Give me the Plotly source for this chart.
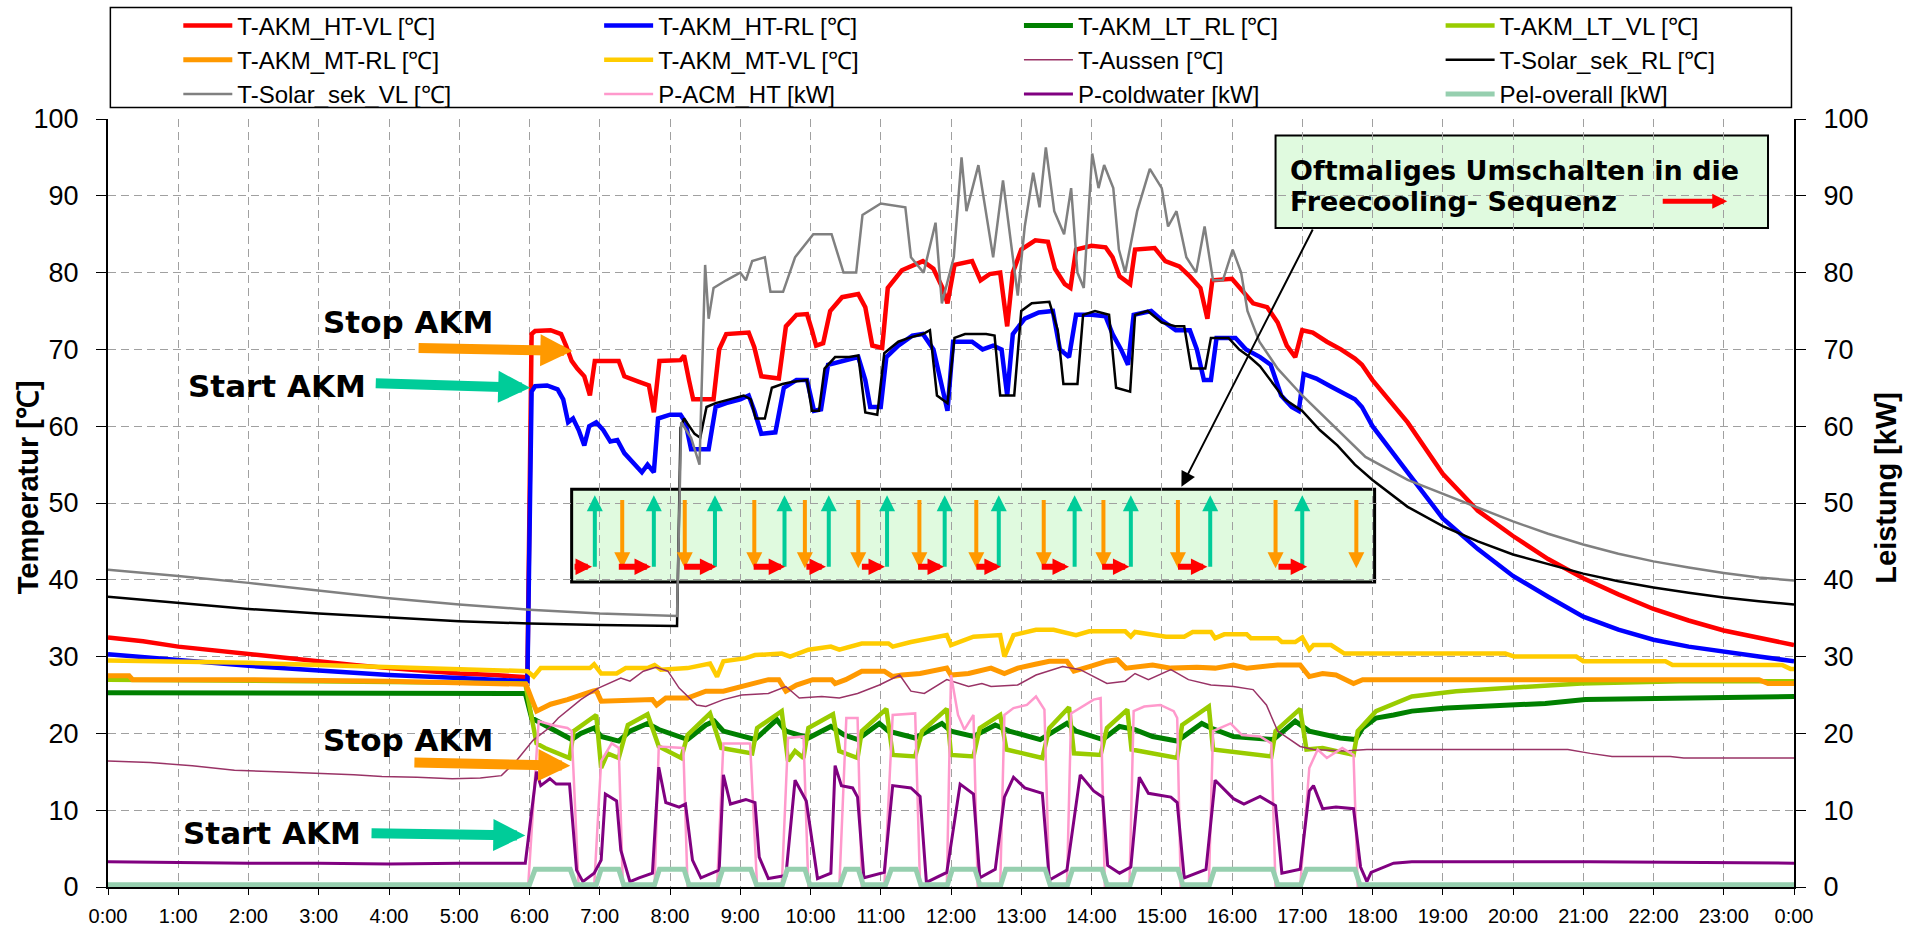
import plotly.graph_objects as go

# ---------------- axis labels ----------------
hour_ticks = [0, 1, 2, 3, 4, 5, 6, 7, 8, 9, 10, 11, 12, 13, 14, 15, 16, 17, 18, 19, 20, 21, 22, 23, 24]
hour_labels = ["0:00", "1:00", "2:00", "3:00", "4:00", "5:00", "6:00", "7:00", "8:00", "9:00",
               "10:00", "11:00", "12:00", "13:00", "14:00", "15:00", "16:00", "17:00", "18:00",
               "19:00", "20:00", "21:00", "22:00", "23:00", "0:00"]
value_ticks = [0, 10, 20, 30, 40, 50, 60, 70, 80, 90, 100]

# ---------------- series (time in hours, values) ----------------
t_ht_vl = [0, 0.5, 1, 1.5, 2, 2.5, 3, 3.5, 4, 4.5, 5, 5.5, 5.97, 6.03, 6.08, 6.3, 6.45, 6.52, 6.6, 6.68, 6.78,
           6.86, 6.93, 7.27, 7.35, 7.55, 7.7, 7.77, 7.85, 8.15, 8.2, 8.27, 8.33, 8.62, 8.7, 8.8, 9.12, 9.2, 9.3,
           9.55, 9.65, 9.8, 9.95, 10.02, 10.08, 10.18, 10.28, 10.45, 10.68, 10.78, 10.88, 11.02, 11.1, 11.3,
           11.5, 11.6, 11.75, 11.88, 11.95, 12.05, 12.3, 12.42, 12.55, 12.7, 12.8, 12.88, 13.0, 13.2, 13.38,
           13.48, 13.62, 13.7, 13.78, 14.0, 14.2, 14.3, 14.4, 14.55, 14.62, 14.9, 15.05, 15.25, 15.4, 15.55,
           15.65, 15.72, 16.0, 16.15, 16.3, 16.5, 16.65, 16.78, 16.9, 17.0, 17.15, 17.35, 17.55, 17.75, 17.85,
           18.0, 18.5, 19.0, 19.5, 20.0, 20.5, 21.0, 21.5, 22.0, 22.5, 23.0, 23.5, 24]
v_ht_vl = [32.5, 32.0, 31.3, 30.8, 30.3, 29.8, 29.3, 28.9, 28.5, 28.1, 27.8, 27.6, 27.3, 72.0, 72.4, 72.5, 72.0,
           70.5, 68.5, 67.5, 66.5, 64.0, 68.5, 68.5, 66.5, 65.8, 65.3, 61.8, 68.5, 68.6, 69.2, 66.0, 63.5, 63.5,
           70.0, 72.0, 72.2, 70.3, 66.5, 66.2, 73.0, 74.5, 74.6, 72.5, 70.5, 70.8, 75.0, 76.8, 77.2, 75.5, 70.5,
           70.2, 78.0, 80.3, 81.0, 81.5, 80.5, 78.0, 76.0, 81.0, 81.5, 79.0, 79.8, 80.0, 73.0, 80.0, 83.0, 84.2,
           84.0, 80.5, 78.5, 78.0, 83.0, 83.5, 83.3, 82.0, 79.5, 78.5, 83.0, 83.2, 81.5, 80.8, 79.5, 78.0, 74.0,
           79.0, 79.2, 77.5, 76.0, 75.5, 73.5, 70.5, 69.0, 72.5, 72.2, 71.0, 70.0, 68.8, 68.0, 66.0, 60.5, 53.8,
           49.0, 45.7, 42.7, 40.2, 38.1, 36.2, 34.7, 33.4, 32.4, 31.5]

t_ht_rl = [0, 1, 2, 3, 4, 5, 5.97, 6.03, 6.08, 6.25, 6.4, 6.48, 6.55, 6.62, 6.7, 6.78, 6.85, 6.95, 7.05, 7.15,
           7.25, 7.35, 7.45, 7.6, 7.68, 7.77, 7.83, 8.0, 8.15, 8.22, 8.3, 8.55, 8.65, 8.8, 9.0, 9.12, 9.2, 9.3,
           9.5, 9.62, 9.8, 9.95, 10.05, 10.15, 10.25, 10.45, 10.68, 10.78, 10.85, 11.0, 11.08, 11.25, 11.45, 11.6,
           11.75, 11.85, 11.95, 12.03, 12.3, 12.45, 12.6, 12.72, 12.8, 12.88, 13.05, 13.25, 13.45, 13.55, 13.68,
           13.78, 14.0, 14.2, 14.3, 14.42, 14.52, 14.6, 14.85, 15.0, 15.2, 15.4, 15.5, 15.6, 15.7, 15.78, 16.05,
           16.2, 16.4, 16.55, 16.7, 16.85, 16.95, 17.02, 17.2, 17.4, 17.6, 17.75, 17.85, 18.0, 18.5, 19.0, 19.5,
           20.0, 20.5, 21.0, 21.5, 22.0, 22.5, 23.0, 23.5, 24]
v_ht_rl = [30.3, 29.5, 28.8, 28.2, 27.6, 27.2, 26.8, 64.5, 65.2, 65.3, 64.8, 63.5, 60.5, 61.0, 59.5, 57.5, 60.0,
           60.5, 59.5, 58.0, 58.2, 56.5, 55.5, 54.0, 55.0, 54.0, 61.0, 61.5, 61.5, 60.5, 57.0, 57.0, 62.5, 63.0,
           63.5, 64.0, 62.0, 59.0, 59.2, 65.0, 66.0, 66.0, 62.0, 62.2, 68.0, 68.5, 69.0, 66.0, 62.5, 62.5, 69.0,
           70.5, 71.8, 72.0, 70.0, 66.0, 62.0, 71.0, 71.0, 70.0, 70.5, 70.0, 64.0, 72.0, 74.0, 74.8, 75.0, 70.0,
           69.0, 74.5, 74.5, 74.3, 72.0, 70.0, 68.0, 74.5, 75.0, 73.8, 72.5, 72.5, 70.0, 66.0, 66.0, 71.5, 71.5,
           70.0, 69.0, 68.0, 64.0, 62.5, 62.0, 66.8, 66.2, 65.2, 64.3, 63.5, 62.5, 60.0, 54.0, 48.0, 44.0, 40.5,
           37.8, 35.2, 33.5, 32.2, 31.3, 30.6, 30.0, 29.4]

t_lt_rl = [0, 3, 5.94, 6.03, 6.22, 6.6, 6.73, 6.92, 7.02, 7.27, 7.43, 7.68, 7.84, 8.25, 8.51, 8.63, 8.76, 9.21,
           9.52, 9.65, 9.97, 10.29, 10.48, 10.67, 10.98, 11.11, 11.49, 11.87, 12.0, 12.32, 12.63, 12.83, 13.27,
           13.65, 13.78, 14.16, 14.4, 14.62, 14.87, 15.22, 15.57, 15.7, 16.02, 16.59, 16.9, 17.1, 17.54, 17.76,
           17.86, 18.05, 18.3, 18.56, 19.06, 19.57, 19.95, 20.46, 21.03, 21.73, 22.37, 23.32, 24]
v_lt_rl = [25.3, 25.3, 25.2, 22.0, 21.1, 19.2, 20.0, 20.7, 19.6, 19.0, 20.3, 21.3, 20.5, 19.2, 21.1, 21.6, 20.3,
           19.2, 21.8, 20.3, 19.4, 20.9, 19.8, 19.2, 21.3, 20.3, 19.4, 21.3, 20.3, 19.6, 21.1, 20.3, 19.2, 21.3,
           20.3, 19.2, 20.9, 20.5, 19.6, 19.0, 21.3, 20.7, 19.6, 19.2, 21.6, 20.3, 19.4, 19.2, 20.7, 22.0, 22.4,
           22.9, 23.3, 23.5, 23.7, 23.9, 24.4, 24.5, 24.7, 24.8, 24.8]

t_lt_vl = [0, 2, 4, 5.94, 6.03, 6.1, 6.22, 6.57, 6.63, 6.92, 6.95, 7.02, 7.11, 7.27, 7.4, 7.68, 7.84, 8.16, 8.25,
           8.57, 8.73, 9.17, 9.24, 9.59, 9.68, 9.78, 9.9, 9.97, 10.32, 10.41, 10.67, 10.73, 11.08, 11.17, 11.49,
           11.59, 11.94, 12.0, 12.32, 12.41, 12.7, 12.79, 13.3, 13.4, 13.68, 13.75, 14.13, 14.22, 14.51, 14.57,
           15.22, 15.29, 15.67, 15.73, 16.56, 16.62, 16.97, 17.06, 17.29, 17.73, 17.79, 18.05, 18.56, 19.19,
           19.83, 20.46, 20.97, 22.37, 24]
v_lt_vl = [27.0, 26.9, 26.7, 26.5, 22.4, 18.7, 18.1, 16.8, 20.3, 22.2, 22.4, 15.5, 17.4, 16.8, 21.1, 22.5, 18.3,
           16.8, 19.8, 22.6, 18.1, 17.4, 20.7, 22.9, 16.4, 17.7, 16.8, 20.7, 22.5, 17.7, 16.8, 20.3, 23.2, 17.2,
           17.0, 20.3, 23.2, 17.2, 17.0, 20.7, 22.4, 17.9, 16.8, 20.7, 23.4, 17.4, 17.2, 20.7, 23.1, 17.9, 16.8,
           21.1, 23.5, 17.9, 17.0, 20.3, 23.2, 17.9, 18.1, 17.2, 20.3, 22.9, 24.8, 25.5, 25.9, 26.3, 26.5, 26.8,
           26.8]

t_mt_rl = [0, 0.3, 0.35, 2, 4, 5.95, 6.03, 6.1, 6.3, 6.54, 6.9, 6.95, 7.02, 7.25, 7.5, 7.75, 7.81, 7.94, 8.25, 8.4,
           8.51, 8.76, 9.02, 9.4, 9.55, 9.65, 9.8, 10.03, 10.3, 10.35, 10.5, 10.73, 11.05, 11.17, 11.3, 11.56,
           11.94, 12.0, 12.25, 12.57, 12.76, 12.95, 13.2, 13.4, 13.65, 13.75, 13.97, 14.22, 14.37, 14.49, 14.87,
           15.13, 15.5, 15.76, 16.02, 16.21, 16.65, 16.97, 17.1, 17.29, 17.48, 17.73, 17.86, 20, 23.5, 23.63, 24]
v_mt_rl = [27.5, 27.5, 27.0, 27.0, 26.8, 26.4, 24.5, 22.9, 23.8, 24.4, 25.5, 25.6, 24.2, 24.3, 24.4, 24.4, 23.7,
           24.6, 24.6, 25.2, 25.5, 25.5, 26.1, 27.0, 27.0, 25.5, 26.3, 27.0, 27.0, 26.5, 27.0, 28.1, 28.1, 27.4,
           27.6, 27.8, 28.5, 27.6, 27.8, 28.5, 27.8, 28.5, 29.0, 29.4, 29.4, 28.1, 28.7, 29.4, 29.6, 28.5, 28.9,
           28.5, 28.6, 28.5, 28.9, 28.5, 28.9, 28.9, 27.4, 27.8, 27.6, 26.5, 27.0, 27.0, 27.0, 26.5, 26.5]

t_mt_vl = [0, 1, 2, 3, 4, 5, 5.97, 6.06, 6.16, 6.86, 6.92, 7.02, 7.24, 7.37, 7.68, 7.78, 7.87, 8.25, 8.57, 8.67,
           8.76, 9.08, 9.21, 9.59, 9.71, 9.97, 10.29, 10.41, 10.73, 11.11, 11.17, 11.43, 11.94, 12.0, 12.32, 12.7,
           12.76, 12.89, 13.21, 13.46, 13.78, 13.97, 14.48, 14.56, 14.62, 15.06, 15.32, 15.44, 15.7, 15.76, 15.89,
           16.21, 16.27, 16.65, 16.71, 16.9, 17.0, 17.1, 17.16, 17.41, 17.6, 19.89, 20.02, 20.9, 21.0, 22.17,
           22.27, 23.83, 23.95, 24]
v_mt_vl = [29.5, 29.4, 29.2, 28.9, 28.6, 28.3, 28.1, 27.4, 28.5, 28.5, 29.0, 27.8, 27.8, 28.5, 28.5, 28.9, 28.3,
           28.5, 29.1, 27.4, 29.4, 29.8, 30.2, 30.4, 30.0, 30.9, 31.3, 30.9, 31.7, 31.7, 31.3, 31.9, 32.8, 31.5,
           32.6, 32.8, 30.0, 32.8, 33.5, 33.5, 32.8, 33.3, 33.3, 32.6, 33.2, 32.6, 32.6, 33.2, 33.2, 32.4, 32.9,
           32.9, 32.4, 32.4, 31.9, 31.9, 32.5, 30.9, 31.5, 31.5, 30.4, 30.4, 30.0, 30.0, 29.4, 29.4, 28.9, 28.9,
           28.4, 28.4]

t_aussen = [0, 0.6, 1.2, 1.8, 2.4, 3.0, 3.5, 3.9, 4.4, 4.9, 5.3, 5.6, 5.82, 6.05, 6.29, 6.41, 6.73, 6.98, 7.3,
            7.43, 7.62, 7.8, 7.97, 8.13, 8.38, 8.51, 8.76, 9.02, 9.4, 9.65, 9.84, 10.16, 10.41, 10.67, 10.98,
            11.27, 11.43, 11.62, 11.94, 12.25, 12.44, 12.57, 12.95, 13.21, 13.59, 13.84, 14.22, 14.48, 14.62,
            14.81, 15.13, 15.38, 15.7, 16.02, 16.3, 16.49, 16.65, 16.97, 17.16, 17.6, 17.92, 18.56, 19.83, 20.78,
            21.1, 21.41, 22.24, 22.43, 24]
v_aussen = [16.4, 16.2, 15.8, 15.2, 15.0, 14.8, 14.6, 14.4, 14.3, 14.1, 14.2, 14.5, 16.5, 19.1, 20.8, 22.0, 24.4,
            25.9, 27.2, 26.8, 28.1, 28.6, 28.1, 25.9, 23.7, 23.5, 24.4, 25.0, 25.2, 26.1, 24.6, 24.8, 24.6, 25.2,
            26.3, 27.6, 25.5, 25.2, 27.0, 26.1, 26.5, 26.1, 26.3, 27.6, 28.7, 28.3, 26.5, 26.8, 27.8, 27.0, 28.3,
            27.0, 26.3, 26.1, 25.7, 23.7, 20.3, 18.3, 17.9, 17.7, 17.9, 17.9, 17.9, 17.9, 17.4, 17.0, 17.0, 16.8,
            16.8]

t_solar_rl = [0, 1, 2, 3, 4, 5, 6, 7, 8.1, 8.15, 8.2, 8.27, 8.35, 8.43, 8.52, 8.65, 8.85, 9.05, 9.15, 9.22, 9.35,
              9.45, 9.6, 9.75, 9.95, 10.02, 10.12, 10.2, 10.35, 10.55, 10.68, 10.78, 10.95, 11.05, 11.25, 11.4,
              11.6, 11.7, 11.8, 11.95, 12.05, 12.2, 12.5, 12.62, 12.7, 12.9, 13.0, 13.15, 13.4, 13.52, 13.6, 13.8,
              13.88, 14.05, 14.25, 14.35, 14.55, 14.62, 14.8, 15.0, 15.2, 15.32, 15.42, 15.62, 15.7, 15.95, 16.1,
              16.25, 16.4, 16.55, 16.75, 17.0, 17.25, 17.5, 17.75, 18.0, 18.5, 19.0, 19.5, 20.0, 20.5, 21.0,
              21.5, 22.0, 22.5, 23.0, 23.5, 24]
v_solar_rl = [37.8, 37.0, 36.2, 35.6, 35.1, 34.6, 34.3, 34.1, 34.0, 59.8, 61.0, 60.0, 59.0, 58.5, 62.5, 63.0, 63.5,
              64.0, 63.5, 61.0, 61.0, 65.0, 65.5, 65.8, 66.0, 62.0, 62.0, 67.5, 69.0, 69.0, 69.2, 61.8, 61.5, 69.5,
              71.0, 71.5, 72.0, 72.5, 64.0, 63.0, 71.5, 72.0, 72.0, 71.8, 64.0, 64.0, 75.0, 76.0, 76.2, 72.5, 65.5,
              65.5, 74.5, 75.0, 74.5, 65.0, 64.5, 74.5, 75.0, 73.5, 73.0, 73.0, 67.5, 67.5, 71.5, 71.5, 70.0, 69.0,
              67.8, 66.0, 63.5, 62.0, 59.5, 57.5, 55.0, 53.0, 49.5, 47.0, 45.0, 43.3, 42.0, 40.8, 39.8, 39.0,
              38.3, 37.7, 37.2, 36.8]

t_solar_vl = [0, 1, 2, 3, 4, 5, 6, 7, 8.1, 8.16, 8.3, 8.42, 8.5, 8.55, 8.62, 8.8, 9.0, 9.08, 9.17, 9.35, 9.43,
              9.61, 9.78, 10.04, 10.3, 10.47, 10.65, 10.74, 11.0, 11.35, 11.43, 11.61, 11.78, 11.87, 12.04, 12.15,
              12.22, 12.39, 12.48, 12.6, 12.74, 12.88, 12.95, 13.05, 13.17, 13.26, 13.35, 13.47, 13.61, 13.71, 13.8,
              13.89, 14.01, 14.1, 14.18, 14.31, 14.39, 14.48, 14.65, 14.83, 15.0, 15.09, 15.21, 15.35, 15.49,
              15.61, 15.73, 15.87, 16.01, 16.13, 16.22, 16.39, 16.65, 17.0, 17.5, 17.9, 18.5, 19.0, 19.5, 20.0,
              20.5, 21.0, 21.5, 22.0, 22.5, 23.0, 23.5, 24]
v_solar_vl = [41.3, 40.5, 39.6, 38.6, 37.6, 36.8, 36.1, 35.6, 35.3, 60.5, 58.5, 55.0, 81.0, 74.0, 78.0, 79.0,
              80.0, 79.0, 81.5, 82.0, 77.5, 77.5, 82.0, 85.0, 85.0, 80.0, 80.0, 87.5, 89.0, 88.5, 82.0, 80.0, 86.5,
              76.0, 82.0, 95.0, 88.0, 94.0, 89.0, 82.0, 92.0, 82.0, 77.0, 86.0, 93.0, 88.5, 96.3, 88.0, 85.0, 91.0,
              80.0, 78.0, 95.5, 91.0, 94.0, 91.0, 83.0, 80.0, 88.0, 93.5, 91.0, 86.0, 88.0, 82.0, 80.0, 86.0, 79.0,
              79.0, 83.0, 80.0, 75.0, 71.0, 67.5, 64.0, 59.5, 56.0, 53.0, 51.2, 49.3, 47.6, 46.0, 44.6, 43.4, 42.4,
              41.6, 40.9, 40.3, 39.9]

t_acm_ht = [0, 5.98, 6.13, 6.32, 6.54, 6.6, 6.7, 6.92, 7.02, 7.17, 7.27, 7.33, 7.78, 7.84, 8.19, 8.25, 8.67, 8.76,
            9.14, 9.24, 9.59, 9.68, 9.9, 9.97, 10.41, 10.51, 10.67, 10.73, 11.05, 11.17, 11.49, 11.56, 11.94, 12.0,
            12.1, 12.19, 12.32, 12.38, 12.7, 12.76, 12.89, 13.08, 13.21, 13.33, 13.4, 13.65, 13.71, 13.84, 14.03,
            14.13, 14.19, 14.54, 14.6, 14.75, 14.98, 15.17, 15.22, 15.27, 15.67, 15.73, 15.98, 16.14, 16.4, 16.56,
            16.62, 16.97, 17.1, 17.22, 17.35, 17.57, 17.73, 17.79, 24]
v_acm_ht = [0, 0, 21.6, 21.1, 20.7, 20.3, 0, 0, 16.4, 18.7, 18.1, 0, 0, 18.3, 18.1, 0, 0, 18.7, 18.7, 0, 0, 19.4,
            19.6, 0, 0, 22.0, 22.0, 0, 0, 22.4, 22.6, 0, 0, 27.6, 22.4, 20.5, 22.4, 0, 0, 22.4, 23.3, 23.7, 24.8,
            23.1, 0, 0, 22.6, 23.3, 24.4, 24.6, 0, 0, 22.9, 23.5, 23.7, 22.9, 22.0, 0, 0, 20.3, 21.3, 19.8, 19.6,
            18.7, 0, 0, 15.5, 17.9, 16.8, 18.1, 17.2, 0, 0]

t_coldwater = [0, 1, 2, 3, 4, 5, 5.94, 6.1, 6.16, 6.29, 6.38, 6.57, 6.67, 6.76, 6.92, 7.02, 7.08, 7.24, 7.3, 7.43,
               7.56, 7.75, 7.84, 7.94, 8.13, 8.22, 8.32, 8.44, 8.7, 8.76, 8.86, 9.08, 9.21, 9.27, 9.4, 9.65, 9.78,
               9.94, 10.1, 10.29, 10.35, 10.44, 10.6, 10.67, 10.76, 11.05, 11.17, 11.43, 11.56, 11.65, 11.94, 12.13,
               12.32, 12.41, 12.63, 12.76, 12.89, 13.05, 13.3, 13.4, 13.65, 13.84, 14.03, 14.16, 14.23, 14.4, 14.56,
               14.68, 14.81, 15.13, 15.22, 15.32, 15.63, 15.76, 16.02, 16.17, 16.4, 16.62, 16.71, 16.97, 17.1,
               17.16, 17.29, 17.48, 17.73, 17.83, 17.92, 17.98, 18.3, 18.56, 21.1, 24]
v_coldwater = [3.3, 3.2, 3.1, 3.1, 3.0, 3.1, 3.1, 15.0, 13.2, 14.1, 13.4, 13.4, 2.2, 0.7, 1.8, 3.5, 12.1, 11.2,
               4.8, 0.7, 1.2, 1.8, 15.6, 11.0, 10.4, 10.8, 3.5, 1.2, 2.2, 14.6, 10.8, 11.4, 11.0, 3.9, 1.1, 1.5,
               13.9, 11.2, 1.1, 1.8, 15.8, 13.2, 12.9, 11.7, 1.2, 1.9, 13.2, 12.9, 11.8, 0.6, 1.9, 13.4, 12.1, 1.2,
               2.3, 11.7, 14.3, 12.9, 12.2, 0.9, 2.2, 14.6, 12.5, 11.7, 2.8, 1.8, 2.6, 14.3, 12.2, 11.7, 11.0, 1.2,
               2.3, 13.9, 11.5, 10.8, 11.8, 10.6, 1.8, 2.3, 12.5, 13.2, 10.2, 10.4, 10.2, 2.6, 0.7, 1.9, 3.1, 3.3,
               3.3, 3.1]

t_pel = [0, 6.0, 6.08, 6.58, 6.66, 6.95, 7.02, 7.27, 7.34, 7.78, 7.85, 8.2, 8.27, 8.68, 8.75, 9.15, 9.23, 9.6,
         9.67, 9.92, 9.99, 10.42, 10.5, 10.68, 10.75, 11.07, 11.15, 11.5, 11.57, 11.95, 12.02, 12.34, 12.41, 12.71,
         12.78, 13.34, 13.41, 13.66, 13.73, 14.15, 14.22, 14.55, 14.62, 15.23, 15.3, 15.68, 15.75, 16.58, 16.65,
         16.98, 17.06, 17.75, 17.82, 24]
v_pel = [0.3, 0.3, 2.3, 2.3, 0.3, 0.3, 2.3, 2.3, 0.3, 0.3, 2.3, 2.3, 0.3, 0.3, 2.3, 2.3, 0.3, 0.3, 2.3, 2.3, 0.3,
         0.3, 2.3, 2.3, 0.3, 0.3, 2.3, 2.3, 0.3, 0.3, 2.3, 2.3, 0.3, 0.3, 2.3, 2.3, 0.3, 0.3, 2.3, 2.3, 0.3, 0.3,
         2.3, 2.3, 0.3, 0.3, 2.3, 2.3, 0.3, 0.3, 2.3, 2.3, 0.3, 0.3]

# ---------------- annotation positions (hours / values) ----------------
fc_up_h = [6.93, 7.77, 8.64, 9.63, 10.26, 11.09, 11.91, 12.68, 13.76, 14.56, 15.69, 17.0]
fc_down_h = [7.32, 8.21, 9.20, 9.92, 10.68, 11.55, 12.36, 13.32, 14.17, 15.23, 16.62, 17.77]
fc_right_start = [6.62, 7.25, 8.18, 9.17, 9.92, 10.71, 11.51, 12.34, 13.27, 14.13, 15.21, 16.64]
fc_right_end = [6.89, 7.73, 8.66, 9.64, 10.22, 11.06, 11.90, 12.71, 13.68, 14.54, 15.65, 17.07]

DEG = "\u2103"
FONT = "Liberation Sans, Arial, sans-serif"
BOLD_V = "DejaVu Sans, Verdana, sans-serif"

series = [
    ("T-AKM_HT-VL [" + DEG + "]", t_ht_vl, v_ht_vl, "#FF0000", 4.5, "legend", "y"),
    ("T-AKM_HT-RL [" + DEG + "]", t_ht_rl, v_ht_rl, "#0000FF", 4.5, "legend2", "y"),
    ("T-AKM_LT_RL [" + DEG + "]", t_lt_rl, v_lt_rl, "#008000", 5, "legend3", "y"),
    ("T-AKM_LT_VL [" + DEG + "]", t_lt_vl, v_lt_vl, "#99CC00", 4.5, "legend4", "y"),
    ("T-AKM_MT-RL [" + DEG + "]", t_mt_rl, v_mt_rl, "#FF9900", 5, "legend", "y"),
    ("T-AKM_MT-VL [" + DEG + "]", t_mt_vl, v_mt_vl, "#FFCC00", 4.5, "legend2", "y"),
    ("T-Aussen [" + DEG + "]", t_aussen, v_aussen, "#993366", 1.5, "legend3", "y"),
    ("T-Solar_sek_RL [" + DEG + "]", t_solar_rl, v_solar_rl, "#000000", 2.5, "legend4", "y"),
    ("T-Solar_sek_VL [" + DEG + "]", t_solar_vl, v_solar_vl, "#808080", 2.5, "legend", "y"),
    ("P-ACM_HT [kW]", t_acm_ht, v_acm_ht, "#FF99CC", 2.5, "legend2", "y2"),
    ("P-coldwater [kW]", t_coldwater, v_coldwater, "#800080", 3, "legend3", "y2"),
    ("Pel-overall [kW]", t_pel, v_pel, "#96CFAF", 5, "legend4", "y2"),
]

fig = go.Figure()
for name, tx, vy, color, width, leg, yax in series:
    fig.add_trace(go.Scatter(x=tx, y=vy, name=name, mode="lines",
                             line=dict(color=color, width=width),
                             legend=leg, yaxis=yax, hoverinfo="skip"))

# ---------------- annotations ----------------
ann = []


def arrow(x, y, ax, ay, color, width, size, head=2):
    ann.append(dict(x=x, y=y, ax=ax, ay=ay, xref="x", yref="y", axref="x", ayref="y",
                    text="", showarrow=True, arrowhead=head, arrowsize=size, arrowwidth=width,
                    arrowcolor=color, standoff=0, startstandoff=0))


def label(x, y, text, size, xanchor="center"):
    ann.append(dict(x=x, y=y, xref="x", yref="y", text=text, showarrow=False,
                    xanchor=xanchor, yanchor="middle",
                    font=dict(family=BOLD_V, size=size, color="black")))


label(4.27, 73.6, "<b>Stop AKM</b>", 31)
arrow(6.61, 69.8, 4.40, 70.2, "#FF9900", 10, 0.64)
label(2.40, 65.3, "<b>Start AKM</b>", 31)
arrow(6.01, 65.0, 3.79, 65.6, "#00CC99", 10, 0.64)
label(4.27, 19.2, "<b>Stop AKM</b>", 31)
arrow(6.58, 15.8, 4.34, 16.2, "#FF9900", 10, 0.64)
label(2.33, 7.0, "<b>Start AKM</b>", 31)
arrow(5.94, 6.7, 3.73, 7.0, "#00CC99", 10, 0.64)

for h in fc_up_h:
    arrow(h, 51.0, h, 41.5, "#00CC99", 4, 0.8)
for h in fc_down_h:
    arrow(h, 41.5, h, 50.6, "#FF9900", 4, 0.8)
for h0, h1 in zip(fc_right_start, fc_right_end):
    arrow(h1, 41.7, h0, 41.7, "#FF0000", 6, 0.55)

label(16.8, 93.3, "<b>Oftmaliges Umschalten in die</b>", 27, "left")
label(16.8, 89.2, "<b>Freecooling- Sequenz</b>", 27, "left")
arrow(23.05, 89.3, 22.11, 89.3, "#FF0000", 5, 0.6)
arrow(15.28, 52.1, 17.16, 85.8, "#000000", 2, 1.5)

# axis titles
ann.append(dict(x=-0.0477, y=0.52, xref="paper", yref="paper", text="<b>Temperatur [" + DEG + "]</b>",
                showarrow=False, textangle=-90, font=dict(family=FONT, size=29, color="black"),
                xanchor="center", yanchor="middle"))
ann.append(dict(x=1.0546, y=0.52, xref="paper", yref="paper", text="<b>Leistung [kW]</b>",
                showarrow=False, textangle=-90, font=dict(family=FONT, size=29, color="black"),
                xanchor="center", yanchor="middle"))

shapes = [
    dict(type="rect", xref="paper", yref="paper", x0=0.0014, x1=0.9985, y0=1.0151, y1=1.1453,
         line=dict(color="black", width=1.5), fillcolor="rgba(0,0,0,0)", layer="above"),
    dict(type="rect", xref="x", yref="y", x0=6.60, x1=18.03, y0=39.7, y1=51.8,
         line=dict(color="black", width=3), fillcolor="#E0FADF", layer="below"),
    dict(type="rect", xref="x", yref="y", x0=16.62, x1=23.63, y0=85.8, y1=97.85,
         line=dict(color="black", width=2), fillcolor="#E0FADF", layer="below"),
]

legend_common = dict(y=1.1505, yanchor="top", xanchor="left", orientation="v",
                     font=dict(family=FONT, size=24, color="black"), itemwidth=49,
                     bgcolor="rgba(0,0,0,0)", borderwidth=0, tracegroupgap=0)

grid = dict(showgrid=True, gridcolor="#A0A0A0", gridwidth=1.2, griddash="8px,5px")

fig.update_layout(
    width=1918, height=930,
    margin=dict(l=108, r=124, t=119, b=43, autoexpand=False),
    paper_bgcolor="white", plot_bgcolor="white",
    showlegend=True,
    legend=dict(x=0.0417, **legend_common),
    legend2=dict(x=0.2913, **legend_common),
    legend3=dict(x=0.5403, **legend_common),
    legend4=dict(x=0.7904, **legend_common),
    xaxis=dict(range=[0, 24], tickmode="array", tickvals=hour_ticks, ticktext=hour_labels,
               tickfont=dict(family=FONT, size=20, color="black"), ticks="outside", ticklen=6,
               tickcolor="black", showline=True, linecolor="black", linewidth=2, zeroline=False,
               ticklabelstandoff=4, **grid),
    yaxis=dict(range=[0, 100], tickmode="array", tickvals=value_ticks,
               tickfont=dict(family=FONT, size=27, color="black"), ticks="outside", ticklen=10,
               tickcolor="black", showline=True, linecolor="black", linewidth=2, zeroline=False,
               ticklabelstandoff=12, **grid),
    yaxis2=dict(range=[0, 100], tickmode="array", tickvals=value_ticks, overlaying="y", side="right",
                tickfont=dict(family=FONT, size=27, color="black"), ticks="outside", ticklen=10,
                tickcolor="black", showline=True, linecolor="black", linewidth=2, zeroline=False,
                showgrid=False, ticklabelstandoff=12),
    annotations=ann,
    shapes=shapes,
)

fig.write_html("out.html", config={"displayModeBar": False},
               post_script="document.body.style.margin='0';document.body.style.overflow='hidden';")
